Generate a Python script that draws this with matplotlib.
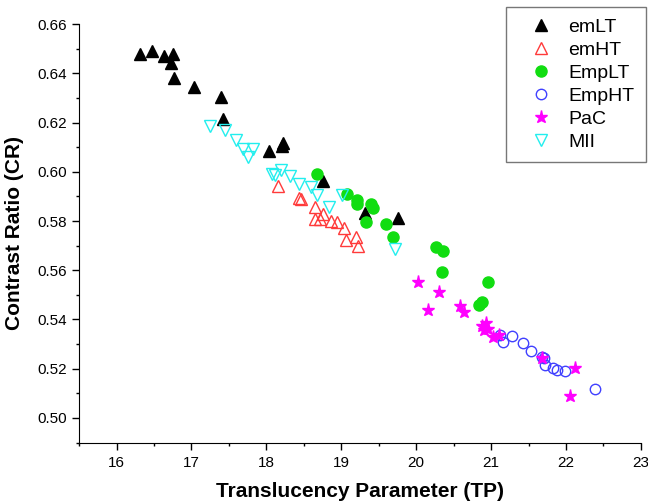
import numpy as np
import matplotlib
matplotlib.use('Agg')
import matplotlib.pyplot as plt
from matplotlib.ticker import MultipleLocator, FormatStrFormatter

plt.rcParams['font.family'] = ['Liberation Sans', 'DejaVu Sans']

# data
emLT_tp = [16.32, 16.47, 16.63, 16.76, 16.73, 16.77, 17.04, 17.40, 17.42, 18.04, 18.22, 18.21, 18.76, 19.32, 19.76]
emLT_cr = [0.6479, 0.6491, 0.6470, 0.6479, 0.6441, 0.6380, 0.6343, 0.6305, 0.6213, 0.6085, 0.6117, 0.6104, 0.5963, 0.5832, 0.5813]

emHT_tp = [18.15, 18.43, 18.46, 18.65, 18.65, 18.72, 18.76, 18.86, 18.94, 19.04, 19.07, 19.20, 19.23]
emHT_cr = [0.5941, 0.5893, 0.5891, 0.5857, 0.5809, 0.5809, 0.5830, 0.5800, 0.5796, 0.5773, 0.5721, 0.5737, 0.5697]

EmpLT_tp = [18.67, 19.08, 19.21, 19.21, 19.40, 19.42, 19.33, 19.60, 19.69, 20.27, 20.36, 20.35, 20.96, 20.88, 20.84]
EmpLT_cr = [0.5990, 0.5911, 0.5887, 0.5870, 0.5870, 0.5854, 0.5796, 0.5789, 0.5737, 0.5694, 0.5680, 0.5592, 0.5551, 0.5470, 0.5460]

EmpHT_tp = [21.12, 21.16, 21.28, 21.42, 21.53, 21.68, 21.71, 21.72, 21.83, 21.88, 21.99, 22.39]
EmpHT_cr = [0.5338, 0.5307, 0.5334, 0.5304, 0.5270, 0.5246, 0.5243, 0.5215, 0.5202, 0.5194, 0.5191, 0.5119]

PaC_tp = [20.02, 20.16, 20.31, 20.59, 20.64, 20.88, 20.93, 20.91, 20.96, 21.03, 21.10, 21.68, 22.12, 22.06]
PaC_cr = [0.5551, 0.5440, 0.5513, 0.5453, 0.5432, 0.5375, 0.5384, 0.5357, 0.5362, 0.5330, 0.5338, 0.5243, 0.5201, 0.5090]

MII_tp = [17.25, 17.45, 17.60, 17.69, 17.82, 17.76, 18.08, 18.19, 18.12, 18.31, 18.43, 18.59, 18.68, 18.84, 19.01, 19.72]
MII_cr = [0.6185, 0.6172, 0.6131, 0.6094, 0.6094, 0.6060, 0.5990, 0.6006, 0.5986, 0.5982, 0.5952, 0.5938, 0.5904, 0.5857, 0.5904, 0.5687]

fig = plt.figure(figsize=(6.48, 5.04), dpi=100)
ax = fig.add_axes([0.122, 0.122, 0.867, 0.830])

ax.plot(emLT_tp, emLT_cr, '^', color='black', ms=8, ls='none', label='emLT')
ax.plot(emHT_tp, emHT_cr, '^', mfc='none', mec='#ff3a3a', mew=1, ms=8, ls='none', label='emHT')
ax.plot(EmpLT_tp, EmpLT_cr, 'o', color='#11dd11', ms=8, ls='none', label='EmpLT')
ax.plot(EmpHT_tp, EmpHT_cr, 'o', mfc='none', mec='#4040ff', mew=1, ms=7.5, ls='none', label='EmpHT')
ax.plot(PaC_tp, PaC_cr, '*', color='#ff00ff', ms=9.5, ls='none', label='PaC')
ax.plot(MII_tp, MII_cr, 'v', mfc='none', mec='#22eeee', mew=1, ms=8, ls='none', label='MII')

ax.set_xlim(15.5, 23)
ax.set_ylim(0.49, 0.66)
ax.xaxis.set_major_locator(MultipleLocator(1))
ax.xaxis.set_minor_locator(MultipleLocator(0.5))
ax.yaxis.set_major_locator(MultipleLocator(0.02))
ax.yaxis.set_minor_locator(MultipleLocator(0.01))
ax.yaxis.set_major_formatter(FormatStrFormatter('%.2f'))
ax.set_yticks(np.arange(0.50, 0.661, 0.02))
ax.tick_params(which='major', direction='out', length=5, width=1, labelsize=11)
ax.tick_params(axis='x', which='major', pad=5)
ax.tick_params(which='minor', direction='out', length=2.5, width=1)
ax.spines['top'].set_visible(False)
ax.spines['right'].set_visible(False)

ax.set_xlabel('Translucency Parameter (TP)', fontsize=15, fontweight='bold', labelpad=8)
ax.set_ylabel('Contrast Ratio (CR)', fontsize=15, fontweight='bold', labelpad=10)

leg = fig.legend(loc='upper right', bbox_to_anchor=(646/648, 1 - 7/504), borderaxespad=0,
                 fontsize=14, frameon=True, fancybox=False, edgecolor='#555555',
                 handletextpad=0.2, borderpad=0.6, labelspacing=0.27, handlelength=2.4)
leg.get_frame().set_linewidth(1)

fig.savefig('out.png', dpi=100)
